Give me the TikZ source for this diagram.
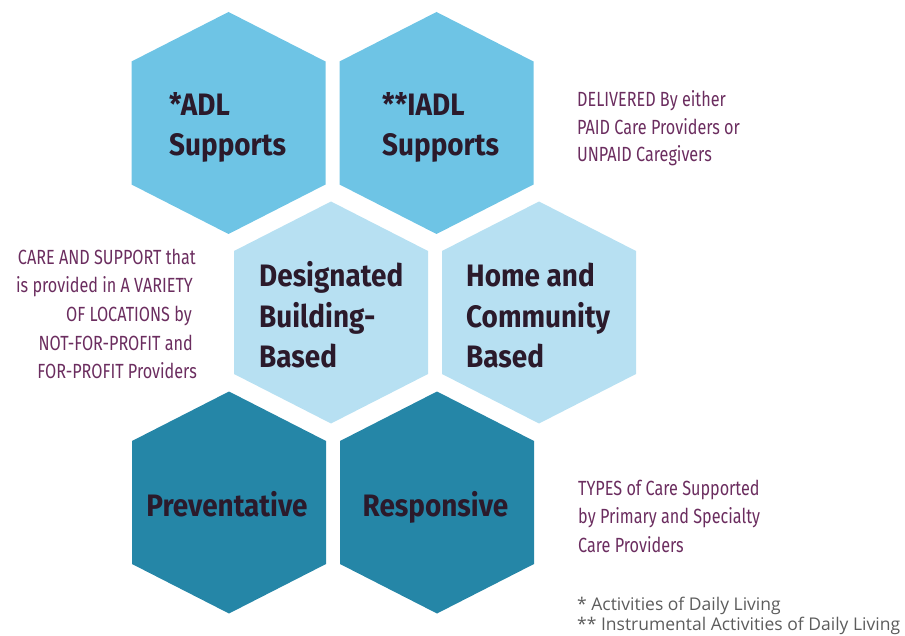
\documentclass[tikz,border=0pt]{standalone}
\usepackage{fontspec}
\newfontfamily\headfont[FakeStretch=0.9]{Fira Sans Bold}
\newfontfamily\sidefont[FakeStretch=0.79]{Fira Sans}
\newfontfamily\notefont{Open Sans}
\definecolor{hexA}{HTML}{6EC4E5}
\definecolor{hexB}{HTML}{B7E0F2}
\definecolor{hexC}{HTML}{2586A7}
\definecolor{headcol}{HTML}{2B1A2B}
\definecolor{sidecol}{HTML}{6B2D5F}
\definecolor{notecol}{HTML}{5C5C5C}
\newcommand\myhex[4]{%
  \fill[#4] (#2-97,#3-61.5) -- (#2,#3-111) -- (#2+97,#3-61.5) -- (#2+97,#3+61.5) -- (#2,#3+111) -- (#2-97,#3+61.5) -- cycle;
  \coordinate (#1) at (#2,#3);}
\begin{document}
\begin{tikzpicture}[x=1pt,y=-1pt,
  head/.style={inner sep=0pt, anchor=base west, text=headcol, font=\headfont\fontsize{31}{40}\selectfont},
  headc/.style={head, anchor=base},
  side/.style={inner sep=0pt, text=sidecol, font=\sidefont\fontsize{20.5}{28}\selectfont},
  note/.style={inner sep=0pt, anchor=base west, text=notecol, font=\notefont\fontsize{17.5}{20}\selectfont}]
\useasboundingbox (0,0) rectangle (905,636);
\myhex{hADL}{228.5}{123}{hexA}
\myhex{hIADL}{436.5}{123}{hexA}
\myhex{hDes}{331}{312.5}{hexB}
\myhex{hHome}{539}{312.5}{hexB}
\myhex{hPrev}{229}{502.5}{hexC}
\myhex{hResp}{437}{502.5}{hexC}
% headings
\node[head] (adl1) at (169,116) {*ADL};
\node[head] (adl2) at (169,156) {Supports};
\node[head] (iadl1) at (382,116) {**IADL};
\node[head] (iadl2) at (382,156) {Supports};
\node[head] (des1) at (259,287) {Designated};
\node[head] (des2) at (259,327) {Building-};
\node[head] (des3) at (259,367) {Based};
\node[head] (home1) at (466,287) {Home and};
\node[head] (home2) at (466,327) {Community};
\node[head] (home3) at (466,367) {Based};
\node[headc] (prev) at (227,516) {Preventative};
\node[headc] (resp) at (435.5,516) {Responsive};
% side texts
\node[side, anchor=base west] (del1) at (577,107) {DELIVERED By either};
\node[side, anchor=base west] (del2) at (577,135) {PAID Care Providers or};
\node[side, anchor=base west] (del3) at (577,162) {UNPAID Caregivers};
\node[side, anchor=base east] (care1) at (196,265) {CARE AND SUPPORT that};
\node[side, anchor=base east] (care2) at (193,293) {is provided in A VARIETY};
\node[side, anchor=base east] (care3) at (192,322) {OF LOCATIONS by};
\node[side, anchor=base east] (care4) at (193,351) {NOT-FOR-PROFIT and};
\node[side, anchor=base east] (care5) at (197,378) {FOR-PROFIT Providers};
\node[side, anchor=base west] (typ1) at (578,495) {TYPES of Care Supported};
\node[side, anchor=base west] (typ2) at (578,523) {by Primary and Specialty};
\node[side, anchor=base west] (typ3) at (578,552) {Care Providers};
% footnotes
\node[note] (fn1) at (577,610.5) {* Activities of Daily Living};
\node[note] (fn2) at (577,630) {** Instrumental Activities of Daily Living};
\end{tikzpicture}
\end{document}
